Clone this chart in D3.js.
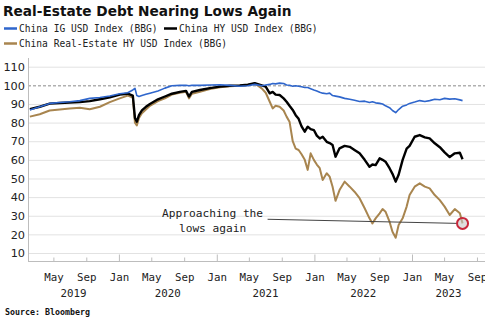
<!DOCTYPE html>
<html>
<head>
<meta charset="utf-8">
<script src="https://cdn.jsdelivr.net/npm/d3@7"></script>
<style>
  body { margin: 0; background: #fff; }
  svg { display: block; }
  .title { font-family: "DejaVu Sans", Verdana, sans-serif; font-weight: bold; font-size: 13.7px; fill: #111; }
  .legend { font-family: "DejaVu Sans Mono", monospace; font-size: 9.6px; fill: #222; }
  .ylab { font-family: "DejaVu Sans", sans-serif; font-size: 11.3px; fill: #222; }
  .xlab { font-family: "DejaVu Sans Mono", monospace; font-size: 10.8px; fill: #222; }
  .note { font-family: "DejaVu Sans Mono", monospace; font-size: 11.2px; fill: #222; }
  .source { font-family: "DejaVu Sans Mono", monospace; font-weight: bold; font-size: 8.3px; fill: #111; }
</style>
</head>
<body>
<div id="chart"></div>
<script>
// values (index level, start ~= 100 basis)
var dates = ["2019-02-02","2019-03-11","2019-04-17","2019-05-25","2019-07-01","2019-08-08","2019-09-14","2019-10-22",
  "2019-11-28","2020-01-04","2020-02-03","2020-02-22","2020-03-01","2020-03-08","2020-03-16","2020-03-27","2020-04-11",
  "2020-04-26","2020-05-26","2020-06-21","2020-07-17","2020-08-16","2020-09-08","2020-09-19","2020-09-30","2020-10-30",
  "2020-12-06","2021-01-13","2021-02-19","2021-03-28","2021-04-27","2021-05-23","2021-06-18","2021-07-03","2021-07-18",
  "2021-07-29","2021-08-09","2021-08-24","2021-09-08","2021-09-19","2021-09-30","2021-10-12","2021-10-23","2021-11-03",
  "2021-11-14","2021-11-26","2021-12-07","2021-12-18","2021-12-30","2022-01-10","2022-01-21","2022-02-01","2022-02-16",
  "2022-02-27","2022-03-10","2022-03-21","2022-04-05","2022-04-24","2022-05-13","2022-05-31","2022-06-19","2022-07-08",
  "2022-07-26","2022-08-06","2022-08-18","2022-09-02","2022-09-13","2022-09-24","2022-10-09","2022-10-20","2022-11-01",
  "2022-11-12","2022-11-27","2022-12-12","2022-12-23","2023-01-11","2023-01-30","2023-02-18","2023-03-08","2023-03-27",
  "2023-04-15","2023-05-03","2023-05-22","2023-06-10","2023-06-29","2023-07-09"];

var igValues = [86.8,88.5,90.3,90.8,91.2,91.8,93.0,93.5,
  94.3,95.5,96.0,97.5,98.4,94.5,94.0,94.5,95.2,
  95.8,97.0,98.5,99.8,100,100,99.8,100,100,
  100.2,100.3,100,99.5,99.8,100.5,99.8,100.2,100.5,
  101,100.8,101.2,101,100.2,100,99.5,99.8,99.5,
  99.2,98.8,98.8,98.2,97.5,97,96.3,95.8,95.5,
  95.8,94.5,94.2,93.8,93,92.5,92,91.3,91.5,
  90.8,91.2,90.6,90.3,90,89,88,86.5,85.3,
  87,88.8,89.5,90.3,91,91.8,91.3,91.8,92.5,
  92.3,93,92.6,92.8,92.2,91.8];

var hyValues = [87.2,88.5,90.2,90.5,90.8,91,91.5,92.5,
  93.5,95,95.5,94.5,82.5,80.5,84,86.5,88.5,
  90,92.5,94,95.5,96.5,97,94,96.5,97.5,
  98.5,99.3,99.8,100,100.3,101.2,100,99.3,95.7,
  96.5,95,94.8,93,91.2,89,86.8,84,82,
  78,75.1,77.8,76.5,76,73,71.5,72.4,69.7,
  69,68,61.7,66.2,67.5,67,65.3,63.5,60,
  56.3,57.5,57.2,60.8,60,59,55.5,52.5,48.3,
  52,60,66,67.5,72.4,73.3,72.1,71.5,68.9,
  66.8,64,61.5,63.5,63.8,60.3];

var reValues = [83.2,84.5,86.5,87,87.5,88,87.2,88.5,
  91,93,94.5,93.5,80,78.5,82.5,85,87,
  89,91.5,93,95,96,96.5,93,95.5,96.5,
  98,99,99.5,99.8,100.2,101,98.4,96,91.2,
  87.6,89,88.5,86.5,83.2,80.5,70,66,65.3,
  63,60,54.6,63.5,60,57.5,55.5,49.2,52.8,
  51,45.6,38,43.8,48.3,45.6,42.9,39.4,34,
  28.6,25.9,28.6,31.3,33.6,32.2,26.8,21.4,18.2,
  25,28.6,34.9,41.1,45.6,47.4,45.6,44.7,41.1,
  38.4,34.9,30.4,33.6,31.3,25.9];

var seriesNames = ["China IG USD Index (BBG)", "China HY USD Index (BBG)", "China Real-Estate HY USD Index (BBG)"];
var yTicks = [10, 20, 30, 40, 50, 60, 70, 80, 90, 100, 110];
var monthTicks = ["2019-05-01","2019-09-01","2020-01-01","2020-05-01","2020-09-01","2021-01-01","2021-05-01",
  "2021-09-01","2022-01-01","2022-05-01","2022-09-01","2023-01-01","2023-05-01","2023-09-01"];
var years = ["2019", "2020", "2021", "2022", "2023"];
var noteLines = ["Approaching the", "lows again"];

var W = 485, H = 326;
var parse = d3.timeParse("%Y-%m-%d");

var svg = d3.select("#chart").append("svg")
  .attr("width", W).attr("height", H);

// scales: Jan 1 2019 -> 21.3px, Jan 1 2023 -> 412px
var x = d3.scaleTime()
  .domain([parse("2019-01-01"), parse("2023-01-01")])
  .range([21.3, 412]);
var y = d3.scaleLinear().domain([10, 110]).range([253, 66.7]);

var plotLeft = 28, plotRight = 485, plotTop = 58, plotBottom = 261;
var viewStart = x.invert(plotLeft), viewEnd = x.invert(plotRight);

// title
svg.append("text").attr("class", "title").attr("x", 3).attr("y", 15.5)
  .text("Real-Estate Debt Nearing Lows Again");

// legend
var colors = ["#2f66cc", "#000000", "#a8854f"];
var legendPos = [{x: 4, y: 28.5}, {x: 164, y: 28.5}, {x: 4, y: 43.5}];
seriesNames.forEach(function(name, i) {
  var p = legendPos[i];
  svg.append("line").attr("x1", p.x).attr("x2", p.x + 13)
    .attr("y1", p.y).attr("y2", p.y)
    .attr("stroke", colors[i]).attr("stroke-width", 2.5);
  svg.append("text").attr("class", "legend")
    .attr("x", p.x + 15).attr("y", p.y + 3.5).text(name);
});

// gridlines
svg.append("g").selectAll("line").data(yTicks).enter().append("line")
  .attr("x1", plotLeft).attr("x2", plotRight)
  .attr("y1", function(d) { return y(d) + 0.5; })
  .attr("y2", function(d) { return y(d) + 0.5; })
  .attr("stroke", function(d) { return d === 100 ? "#8a8a8a" : "#e2e2e2"; })
  .attr("stroke-dasharray", function(d) { return d === 100 ? "3,2" : null; })
  .attr("stroke-width", 1);

// y labels
svg.append("g").selectAll("text").data(yTicks).enter().append("text")
  .attr("class", "ylab")
  .attr("x", 25).attr("y", function(d) { return y(d) + 4.2; })
  .attr("text-anchor", "end")
  .text(function(d) { return d; });

// axis frame
svg.append("line").attr("x1", plotLeft + 0.5).attr("x2", plotLeft + 0.5)
  .attr("y1", plotTop).attr("y2", plotBottom)
  .attr("stroke", "#bdbdbd");
svg.append("line").attr("x1", plotLeft).attr("x2", plotRight)
  .attr("y1", plotBottom + 0.5).attr("y2", plotBottom + 0.5)
  .attr("stroke", "#bdbdbd");

// x ticks (Jan a bit taller) and month labels
var xAxis = svg.append("g").attr("transform", "translate(0," + (plotBottom + 0.5) + ")")
  .call(d3.axisBottom(x)
    .tickValues(monthTicks.map(parse))
    .tickSizeInner(-4).tickSizeOuter(0).tickPadding(14)
    .tickFormat(d3.timeFormat("%b")));
xAxis.select(".domain").remove();
xAxis.selectAll(".tick line").attr("stroke", "#bdbdbd")
  .attr("y2", function(d) { return d.getMonth() === 0 ? -7 : -4; });
xAxis.selectAll(".tick text").attr("class", "xlab")
  .attr("font-family", null).attr("font-size", null).attr("fill", null)
  .attr("y", 19.5).attr("dy", null);

// year labels centred on the visible part of each year
svg.append("g").selectAll("text").data(years).enter().append("text")
  .attr("class", "xlab").attr("text-anchor", "middle")
  .attr("y", 296.5)
  .attr("x", function(d) {
    var a = Math.max(+parse(d + "-01-01"), +viewStart);
    var b = Math.min(+parse((+d + 1) + "-01-01"), +viewEnd);
    return (x(new Date(a)) + x(new Date(b))) / 2;
  })
  .text(function(d) { return d; });

// series lines
var allSeries = [igValues, hyValues, reValues];
var widths = [1.6, 2.4, 2.0];
var line = d3.line()
  .x(function(d) { return x(d[0]); })
  .y(function(d) { return y(d[1]); });
// draw real estate first, then HY, then IG on top
[2, 1, 0].forEach(function(i) {
  var pts = dates.map(function(dt, k) { return [parse(dt), allSeries[i][k]]; });
  svg.append("path").datum(pts)
    .attr("fill", "none")
    .attr("stroke", colors[i])
    .attr("stroke-width", widths[i])
    .attr("stroke-linejoin", "round")
    .attr("d", line);
});

// annotation
var lastDate = parse(dates[dates.length - 1]);
var lastRe = reValues[reValues.length - 1];
var noteStart = [parse("2021-07-10"), 28.1];
svg.append("line")
  .attr("x1", x(noteStart[0])).attr("y1", y(noteStart[1]))
  .attr("x2", x(lastDate) - 5).attr("y2", y(lastRe))
  .attr("stroke", "#444").attr("stroke-width", 1);
svg.append("circle")
  .attr("cx", x(lastDate)).attr("cy", y(lastRe)).attr("r", 5.5)
  .attr("fill", "rgba(200,200,200,0.6)")
  .attr("stroke", "#c8283c").attr("stroke-width", 2);
svg.append("g").selectAll("text").data(noteLines).enter().append("text")
  .attr("class", "note").attr("text-anchor", "middle")
  .attr("x", x(noteStart[0]) - 55)
  .attr("y", function(d, i) { return y(noteStart[1]) - 2.6 + i * 15; })
  .text(function(d) { return d; });

// source
svg.append("text").attr("class", "source").attr("x", 5).attr("y", 314.5)
  .text("Source: Bloomberg");
</script>
</body>
</html>
